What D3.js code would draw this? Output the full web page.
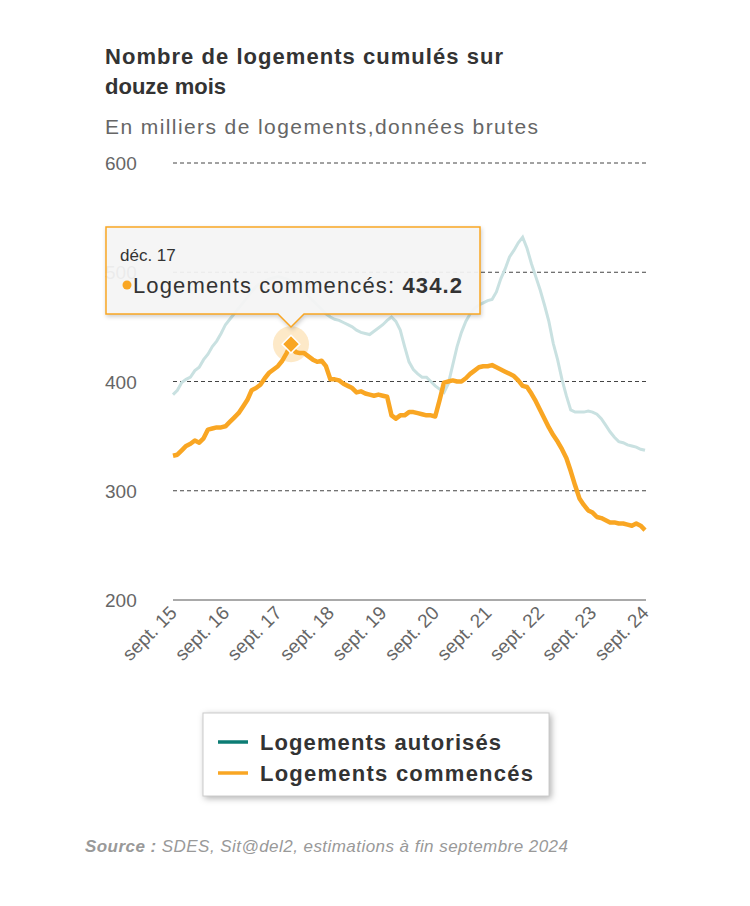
<!DOCTYPE html>
<html><head><meta charset="utf-8">
<script src="https://cdn.jsdelivr.net/npm/d3@7"></script>
<style>body{margin:0;background:#fff;font-family:"Liberation Sans",Arial,sans-serif}</style>
</head><body><svg id="chart" width="750" height="906"></svg>
<script>
// monthly, sept. 2015 -> sept. 2024
var autorises = [388,392,399,402,
 404,410,413,420,425,432,437,444,452,457,462,467,
 472,477,482,487,490,492,494,495,496,495,494,492,
 490,486,482,478,474,470,466,462,459,457,456,454,
 452,450,447,445,444,443,446,449,452,456,459,455,
 447,432,418,411,407,404,404,400,396,393,390,398,
 415,432,445,455,462,467,470,472,474,475,482,494,
 503,514,520,527,532,522,508,496,484,470,455,435,
 420,402,387,374,372,372,372,373,372,370,366,360,
 354,349,345,344,342,341,340,338,337];
var commences = [332,333,337,341,
 343,346,344,348,356,357,358,358,359,363,367,371,
 377,383,392,394,397,403,408,411,414,419,426,434.2,
 427,426,426,423,420,418,419,414,402,402,401,398,
 396,394,390,391,389,388,387,388,387,386,369,366,
 369,369,372,372,371,370,369,369,368,383,399,400,
 401,400,400,403,407,410,413,414,414,415,413,411,
 409,407,405,401,396,395,389,382,374,366,358,351,
 345,338,330,318,305,293,287,282,280,276,275,273,
 271,271,270,270,269,268,270,268,264];
var yTicks = [200,300,400,500,600];
var xTickLabels = ["sept. 15","sept. 16","sept. 17","sept. 18","sept. 19","sept. 20","sept. 21","sept. 22","sept. 23","sept. 24"];
var hoverIndex = 27;

var svg = d3.select("#chart");
var x = d3.scaleLinear().domain([0, commences.length - 1]).range([173, 645]);
var y = d3.scaleLinear().domain([200, 600]).range([600, 163]);

svg.append("text").attr("x",105).attr("y",64).attr("font-size",22).attr("font-weight","bold").attr("fill","#333").attr("textLength",398).text("Nombre de logements cumulés sur");
svg.append("text").attr("x",105).attr("y",94).attr("font-size",22).attr("font-weight","bold").attr("fill","#333").text("douze mois");
svg.append("text").attr("x",105).attr("y",134).attr("font-size",21).attr("fill","#666").attr("textLength",433).text("En milliers de logements,données brutes");

// grid
yTicks.forEach(function(t){
	svg.append("line").attr("x1",173).attr("x2",646).attr("y1",y(t)).attr("y2",y(t))
		.attr("stroke", t === 200 ? "#555" : "#444").attr("stroke-width",1)
		.attr("stroke-dasharray", t === 200 ? null : "4,3");
	svg.append("text").attr("x",105).attr("y",y(t)+7).attr("font-size",19).attr("fill","#666").text(t);
});

// x labels
xTickLabels.forEach(function(l,i){
	var px = x(i*12);
	svg.append("text").attr("transform","translate("+(px+5)+",614) rotate(-45)")
		.attr("text-anchor","end").attr("font-size",19).attr("fill","#666").text(l);
});

var line = d3.line().x(function(d,i){return x(i);}).y(function(d){return y(d);});
svg.append("path").datum(autorises).attr("d",line).attr("fill","none").attr("stroke","#c9e1e1").attr("stroke-width",3);
svg.append("path").datum(commences).attr("d",line).attr("fill","none").attr("stroke","#f9a623").attr("stroke-width",4.5).attr("stroke-linejoin","round");

// hover marker
var hx = x(hoverIndex), hy = y(commences[hoverIndex]);
svg.append("circle").attr("cx",hx).attr("cy",hy).attr("r",18).attr("fill","#f9a623").attr("opacity",0.25);
svg.append("path").attr("d",d3.symbol(d3.symbolDiamond2,200)()).attr("transform","translate("+hx+","+hy+")")
	.attr("fill","#f9a623").attr("stroke","#fff").attr("stroke-width",1.5);

// tooltip
var tip = svg.append("g");
tip.append("path").attr("d","M106,227 H480 V314 H"+(hx+13)+" L"+hx+",327 L"+(hx-13)+",314 H106 Z")
	.attr("fill","#f7f7f7").attr("fill-opacity",0.92).attr("stroke","#f9a623").attr("stroke-width",1.5)
	.style("filter","drop-shadow(1px 2px 2px rgba(0,0,0,0.2))");
tip.append("text").attr("x",120).attr("y",261).attr("font-size",17).attr("fill","#333").text("déc. 17");
tip.append("circle").attr("cx",127).attr("cy",285).attr("r",4.5).attr("fill","#f9a623");
var t2 = tip.append("text").attr("x",133).attr("y",293).attr("font-size",22).attr("fill","#333").attr("textLength",329);
t2.append("tspan").text("Logements commencés: ");
t2.append("tspan").attr("font-weight","bold").text(commences[hoverIndex].toFixed(1));

// legend
svg.append("rect").attr("x",203).attr("y",713).attr("width",346).attr("height",83).attr("fill","#fff")
	.attr("stroke","#ccc").style("filter","drop-shadow(2px 2px 3px rgba(0,0,0,0.3))");
[["Logements autorisés","#0c7c74",241],["Logements commencés","#f9a623",273]].forEach(function(d,i){
	var ly = 742 + i*31;
	svg.append("line").attr("x1",218).attr("x2",248).attr("y1",ly).attr("y2",ly).attr("stroke",d[1]).attr("stroke-width",3.5);
	svg.append("text").attr("x",260).attr("y",ly+8).attr("font-size",22).attr("font-weight","bold").attr("fill","#333").attr("textLength",d[2]).text(d[0]);
});

var src = svg.append("text").attr("x",85).attr("y",852).attr("font-size",17).attr("font-style","italic").attr("fill","#999").attr("textLength",483);
src.append("tspan").attr("font-weight","bold").text("Source : ");
src.append("tspan").text("SDES, Sit@del2, estimations à fin septembre 2024");
</script></body></html>
